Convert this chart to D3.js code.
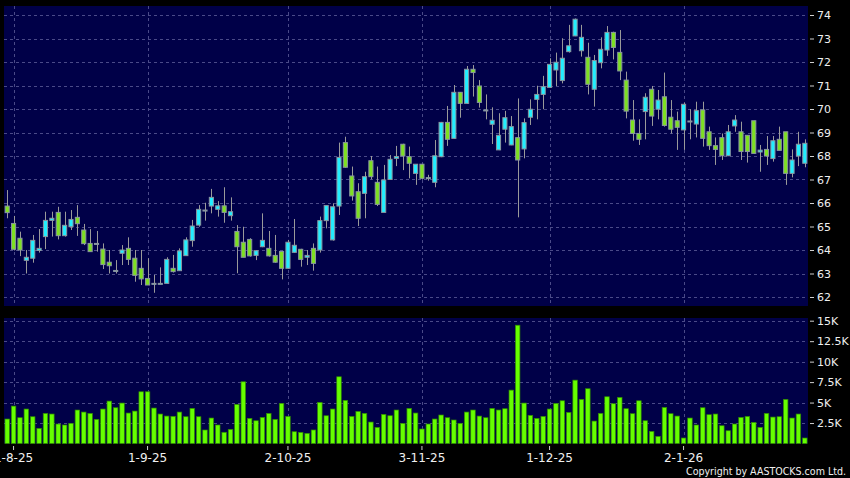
<!DOCTYPE html>
<html><head><meta charset="utf-8">
<script src="https://cdn.jsdelivr.net/npm/d3@7"></script>
<style>html,body{margin:0;padding:0;background:#000;} svg{display:block}</style>
</head><body>
<svg id="chart" width="850" height="478"></svg>
<script>
// ---------- DATA ----------
const dates = [
"31-7-25",
"1-8-25","4-8-25","5-8-25","6-8-25","7-8-25","8-8-25","11-8-25","12-8-25","13-8-25","14-8-25","15-8-25",
"18-8-25","19-8-25","20-8-25","21-8-25","22-8-25","25-8-25","26-8-25","27-8-25","28-8-25","29-8-25",
"1-9-25","2-9-25","3-9-25","4-9-25","5-9-25","8-9-25","9-9-25","10-9-25","11-9-25","12-9-25","15-9-25",
"16-9-25","17-9-25","18-9-25","19-9-25","22-9-25","23-9-25","24-9-25","25-9-25","26-9-25","29-9-25","30-9-25",
"2-10-25","3-10-25","6-10-25","7-10-25","8-10-25","9-10-25","10-10-25","13-10-25","14-10-25","15-10-25","16-10-25",
"17-10-25","20-10-25","21-10-25","22-10-25","23-10-25","24-10-25","27-10-25","28-10-25","30-10-25","31-10-25",
"3-11-25","4-11-25","5-11-25","6-11-25","7-11-25","10-11-25","11-11-25","12-11-25","13-11-25","14-11-25",
"17-11-25","18-11-25","19-11-25","20-11-25","21-11-25","24-11-25","25-11-25","26-11-25","27-11-25","28-11-25",
"1-12-25","2-12-25","3-12-25","4-12-25","5-12-25","8-12-25","9-12-25","10-12-25","11-12-25","12-12-25","15-12-25",
"16-12-25","17-12-25","18-12-25","19-12-25","22-12-25","23-12-25","24-12-25","29-12-25","30-12-25","31-12-25",
"2-1-26","5-1-26","6-1-26","7-1-26","8-1-26","9-1-26","12-1-26","13-1-26","14-1-26","15-1-26",
"16-1-26","19-1-26","20-1-26","21-1-26","22-1-26","23-1-26","26-1-26","27-1-26","28-1-26","29-1-26"
];

const openPrices = [65.87,65.13,64.50,63.56,63.65,63.98,64.57,65.26,65.60,64.61,
64.99,65.39,64.85,64.28,64.28,64.04,63.48,63.13,63.86,64.07,
63.65,63.22,62.79,62.58,62.58,62.58,63.22,63.12,63.76,64.40,
65.06,65.70,65.87,65.73,65.88,65.46,64.79,64.33,64.45,63.77,
64.14,64.07,63.77,63.94,63.22,63.90,64.03,63.69,64.07,64.00,
65.25,64.43,65.87,68.57,67.15,66.48,66.41,67.80,66.88,65.60,
67.00,67.90,68.50,67.97,67.26,67.65,67.08,66.88,67.97,69.43,
68.75,70.71,70.24,71.69,70.98,69.96,69.35,68.26,69.14,68.47,
68.78,68.30,69.65,70.41,70.62,70.92,71.66,71.21,72.44,73.11,
72.48,72.20,70.84,71.97,72.51,73.26,72.41,71.23,69.53,68.96,
69.89,70.84,69.99,70.52,69.65,69.50,69.11,69.49,69.36,69.96,
69.03,68.44,68.78,68.01,69.28,69.03,68.88,69.50,68.17,68.28,
67.89,68.71,69.03,67.26,68.00,67.69];

const highPrices = [66.55,65.45,64.78,64.00,64.64,64.89,65.63,65.63,65.84,65.63,
65.70,65.91,65.11,64.89,64.81,64.28,64.00,63.57,64.21,64.54,
64.00,64.00,63.65,62.94,63.26,63.69,63.79,64.07,64.54,65.28,
65.91,66.01,66.60,66.08,66.67,66.24,65.06,64.99,64.50,63.99,
65.56,64.81,64.64,63.96,64.43,65.32,64.05,64.00,64.28,65.42,
65.90,65.99,68.57,68.82,67.55,66.84,67.33,68.00,67.55,67.62,
68.04,68.43,68.52,68.40,67.66,67.66,67.20,68.68,69.45,70.13,
71.02,70.72,71.83,71.87,71.23,70.62,70.07,69.82,69.92,69.70,
70.45,69.60,70.41,70.99,71.41,72.16,72.40,73.01,73.58,73.85,
73.58,72.82,72.30,73.05,73.53,73.29,73.36,71.59,70.38,69.56,
70.67,70.98,70.81,71.55,70.38,69.89,70.27,69.99,70.31,70.31,
69.25,68.79,68.96,69.32,69.74,69.46,68.88,69.50,68.47,68.85,
68.85,69.25,69.03,68.28,69.03,68.71];

const lowPrices = [65.35,63.98,63.74,63.00,63.46,63.89,64.04,64.57,64.45,64.57,
64.85,64.60,64.21,63.93,63.93,63.19,63.00,63.00,63.36,63.36,
62.65,62.51,62.51,62.18,62.58,62.58,63.04,63.12,63.76,64.14,
64.99,65.25,65.56,65.42,65.16,65.25,63.01,63.69,63.72,63.57,
64.12,63.72,63.46,62.75,63.20,63.88,63.29,63.36,63.12,63.89,
64.92,64.40,65.49,67.50,66.10,65.02,65.35,67.01,65.87,65.60,
67.00,67.57,67.40,67.05,66.77,67.00,66.95,66.67,67.95,68.43,
68.73,69.63,70.22,70.53,70.06,69.56,68.51,68.25,68.57,68.46,
65.39,67.90,69.32,69.56,69.99,70.90,70.98,71.09,72.40,73.10,
72.23,70.62,70.10,71.73,72.26,72.11,71.23,69.60,68.65,68.47,
68.71,69.28,69.56,69.25,68.96,68.26,68.26,68.71,68.79,68.40,
68.26,67.62,67.83,68.00,69.03,67.83,67.72,68.10,67.33,67.62,
67.76,68.24,66.77,67.09,67.57,67.52];

const closePrices = [65.59,64.03,64.00,63.69,64.41,64.07,65.26,65.35,64.61,65.05,
65.30,65.12,64.27,63.93,64.28,63.38,63.33,63.13,64.00,63.60,
62.92,62.77,62.51,62.58,62.58,63.60,63.08,63.96,64.43,65.02,
65.73,65.70,66.24,65.88,65.60,65.63,64.14,63.69,63.75,63.97,
64.41,63.75,63.48,63.22,64.33,64.20,63.60,63.77,63.43,65.25,
65.89,65.84,67.94,67.52,66.30,65.35,67.12,67.12,65.94,66.98,
67.86,67.98,68.00,67.69,67.65,67.05,67.08,68.01,69.43,68.71,
70.71,70.24,71.69,71.55,70.28,69.96,69.52,68.88,69.63,69.25,
67.83,69.42,69.99,70.62,70.95,71.90,71.99,72.16,72.69,73.82,
73.05,71.05,72.06,72.54,73.26,72.62,71.62,69.91,68.96,68.71,
70.50,69.70,70.38,69.30,69.14,69.22,70.20,69.49,69.93,68.75,
68.44,68.28,68.01,69.03,69.53,68.19,68.19,68.11,68.25,68.00,
68.65,68.24,67.26,67.83,68.50,68.54];

// volume in thousands of shares
const volumes = [2.99,4.57,3.15,4.21,3.27,1.85,3.68,3.60,2.38,2.26,
2.46,4.09,3.84,3.68,2.95,4.21,5.18,4.37,4.94,3.72,
3.96,6.32,6.32,4.33,3.60,3.35,3.32,3.84,3.27,4.29,
3.27,1.65,3.11,2.26,1.37,1.73,4.78,7.54,3.07,2.78,
3.19,3.68,2.95,4.90,3.32,1.44,1.36,1.24,1.65,5.02,
3.39,4.21,8.15,5.27,3.31,3.92,3.68,2.62,1.97,3.56,
3.39,4.09,2.46,4.29,3.72,1.77,2.38,2.99,3.48,3.15,
2.87,2.46,3.84,4.09,3.35,3.15,4.29,4.09,4.25,6.52,
14.45,4.94,3.44,3.07,3.31,4.21,4.90,5.22,3.80,7.74,
5.39,6.69,2.74,3.68,5.71,4.86,5.63,4.25,3.64,5.22,
2.78,1.48,0.87,4.41,3.64,3.35,0.67,3.11,2.26,4.37,
3.52,3.60,2.17,1.56,2.38,3.19,3.31,2.58,1.97,3.68,
3.23,3.27,5.39,3.11,3.60,0.67];

const priceTicks = [62,63,64,65,66,67,68,69,70,71,72,73,74];
const volumeTicks = [2.5,5,7.5,10,12.5,15];
const volumeTickLabels = ["2.5K","5K","7.5K","10K","12.5K","15K"];
const dateTickLabels = ["1-8-25","1-9-25","2-10-25","3-11-25","1-12-25","2-1-26"];
const copyrightText = "Copyright by AASTOCKS.com Ltd.";

// ---------- LAYOUT ----------
const plotL = 4, plotR = 808;
const priceTop = 6, priceBot = 306;
const volTop = 318, volBot = 443.5;
const FONT = "'DejaVu Sans', Verdana, sans-serif";
const NAVY = "#000048";
const GRID = "#4a4a88";
const UP = "#22eeff", DOWN = "#7ee022";

const candles = dates.map((d, i) => ({
  date: d, o: openPrices[i], h: highPrices[i], l: lowPrices[i], c: closePrices[i], v: volumes[i]
}));

const svg = d3.select("#chart");
svg.append("rect").attr("width", 850).attr("height", 478).attr("fill", "#000");

const x = d3.scaleBand().domain(dates).range([plotL, plotR]).paddingInner(0.2).paddingOuter(0.1);
const yP = d3.scaleLinear().domain([62, 74]).range([297, 15]);
const yV = d3.scaleLinear().domain([0, 15]).range([volBot, 320.7]);
const bw = x.bandwidth();
const cx = d => x(d) + bw / 2;

// panels
svg.append("rect").attr("x", plotL).attr("y", priceTop).attr("width", plotR - plotL).attr("height", priceBot - priceTop).attr("fill", NAVY);
svg.append("rect").attr("x", plotL).attr("y", volTop).attr("width", plotR - plotL).attr("height", volBot - volTop).attr("fill", NAVY);

// grid
const grid = svg.append("g").attr("stroke", GRID).attr("stroke-width", 1).attr("stroke-dasharray", "3,3").attr("shape-rendering", "crispEdges");
grid.selectAll(".hp").data(priceTicks).join("line")
  .attr("x1", plotL).attr("x2", plotR).attr("y1", d => Math.round(yP(d)) + 0.5).attr("y2", d => Math.round(yP(d)) + 0.5);
grid.selectAll(".hv").data(volumeTicks).join("line").attr("class", "hv")
  .attr("x1", plotL).attr("x2", plotR).attr("y1", d => Math.round(yV(d)) + 0.5).attr("y2", d => Math.round(yV(d)) + 0.5);
[[priceTop, priceBot], [volTop, volBot]].forEach(([t, b]) => {
  grid.append("g").selectAll("line").data(dateTickLabels).join("line")
    .attr("x1", d => Math.round(cx(d)) + 0.5).attr("x2", d => Math.round(cx(d)) + 0.5)
    .attr("y1", t).attr("y2", b);
});

// candles
const cg = svg.append("g");
cg.selectAll(".wick").data(candles).join("line").attr("class", "wick")
  .attr("x1", d => Math.round(cx(d.date)) + 0.5).attr("x2", d => Math.round(cx(d.date)) + 0.5)
  .attr("y1", d => yP(d.h)).attr("y2", d => yP(d.l))
  .attr("stroke", "#9a9a9a").attr("stroke-width", 1);
cg.selectAll(".body").data(candles).join("rect").attr("class", "body")
  .attr("x", d => x(d.date) + 0.5)
  .attr("width", bw - 1)
  .attr("y", d => yP(Math.max(d.o, d.c)))
  .attr("height", d => Math.max(1, Math.abs(yP(d.o) - yP(d.c))))
  .attr("fill", d => d.c >= d.o ? UP : DOWN)
  .attr("stroke", "#8a96a0").attr("stroke-width", 1);

// volume
svg.append("g").selectAll("rect").data(candles).join("rect")
  .attr("x", d => x(d.date) + 0.3)
  .attr("width", bw - 0.6)
  .attr("y", d => yV(d.v))
  .attr("height", d => volBot - yV(d.v))
  .attr("fill", "#66ff00")
  .attr("stroke", "#2f8a00").attr("stroke-width", 0.7);

// axes
function styleAxis(g, size) {
  g.select(".domain").remove();
  g.selectAll(".tick line").attr("stroke", "#cfcfcf");
  g.selectAll(".tick text").attr("fill", "#f0f0f0").attr("font-family", FONT).attr("font-size", size);
}
svg.append("g").attr("transform", "translate(810,0)")
  .call(d3.axisRight(yP).tickValues(priceTicks).tickSize(4).tickPadding(3).tickFormat(d3.format("d")))
  .call(g => styleAxis(g, 11));
svg.append("g").attr("transform", "translate(810,0)")
  .call(d3.axisRight(yV).tickValues(volumeTicks).tickSize(4).tickPadding(3).tickFormat((d, i) => volumeTickLabels[i]))
  .call(g => styleAxis(g, 11));
svg.append("g").attr("transform", "translate(0,446)")
  .call(d3.axisBottom(x).tickValues(dateTickLabels).tickSize(4).tickPadding(3.8))
  .call(g => styleAxis(g, 12));

svg.append("text").attr("x", 846).attr("y", 475).attr("text-anchor", "end")
  .attr("font-family", FONT).attr("font-size", 10.5).attr("fill", "#f0f0f0")
  .attr("textLength", 160).attr("lengthAdjust", "spacingAndGlyphs")
  .text(copyrightText);
</script>
</body></html>
